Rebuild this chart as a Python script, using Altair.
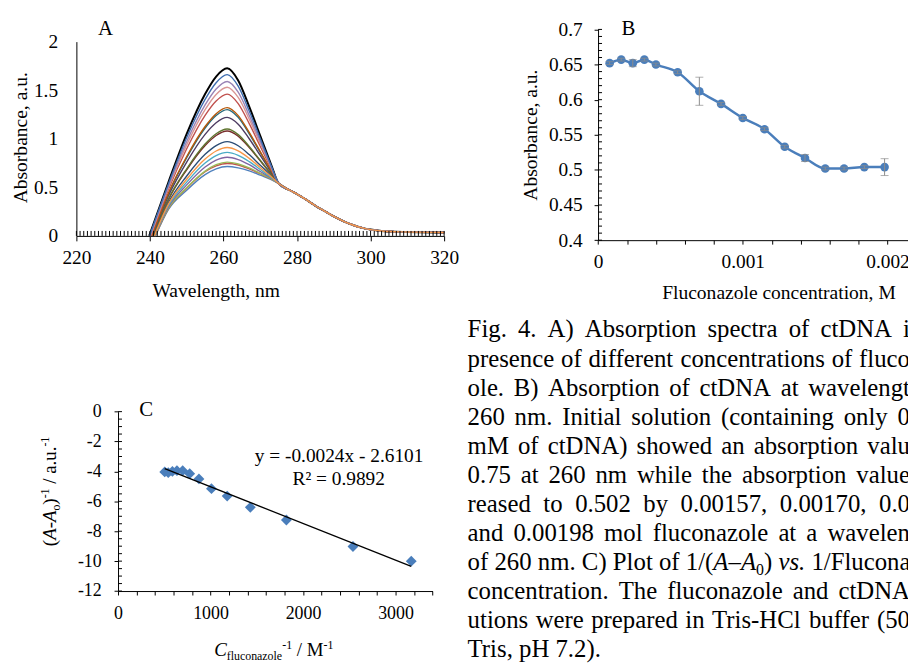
import altair as alt
import pandas as pd

SERIF = "Liberation Serif"
W, H = 908, 658


def P(v):
    """page pixel -> chart pixel (page has an 8px margin)"""
    return v - 8


# ---------------- Panel A: absorption spectra ----------------
wl_grid = [245, 250, 255, 258, 261, 264, 267, 270, 273, 275]
curve_names = ["c01", "c02", "c03", "c04", "c05", "c06", "c07", "c08", "c09",
               "c10", "c11", "c12", "c13", "c14", "c15", "c16", "c17"]
curve_colors = ["#4F81BD", "#C0504D", "#9BBB59", "#8064A2", "#4BACC6", "#F79646",
                "#2C4D75", "#772C2A", "#5F7530", "#4D3B62", "#276A7C", "#B65708",
                "#C0504D", "#D99694", "#9983B5", "#3D6DB0", "#000000"]
curve_starts = [241.5, 241.45, 241.4, 241.3, 241.25, 241.2, 241.1, 240.9, 240.85,
                240.65, 240.5, 240.5, 240.25, 240.1, 240.0, 239.9, 239.8]
curve_values = [
    [0.27, 0.47, 0.63, 0.69, 0.714, 0.70, 0.67, 0.625, 0.58, 0.54],
    [0.28, 0.49, 0.66, 0.72, 0.745, 0.73, 0.69, 0.64, 0.585, 0.54],
    [0.283, 0.496, 0.667, 0.733, 0.76, 0.74, 0.70, 0.643, 0.587, 0.54],
    [0.297, 0.525, 0.709, 0.78, 0.81, 0.786, 0.733, 0.663, 0.594, 0.54],
    [0.31, 0.554, 0.75, 0.827, 0.86, 0.83, 0.765, 0.683, 0.60, 0.54],
    [0.324, 0.583, 0.791, 0.874, 0.91, 0.875, 0.798, 0.704, 0.609, 0.54],
    [0.341, 0.617, 0.84, 0.93, 0.97, 0.928, 0.837, 0.727, 0.618, 0.54],
    [0.371, 0.68, 0.93, 1.034, 1.08, 1.026, 0.909, 0.772, 0.634, 0.54],
    [0.377, 0.691, 0.946, 1.052, 1.10, 1.043, 0.921, 0.779, 0.637, 0.54],
    [0.41, 0.76, 1.045, 1.165, 1.22, 1.15, 1.00, 0.828, 0.655, 0.54],
    [0.432, 0.805, 1.11, 1.239, 1.30, 1.22, 1.051, 0.859, 0.667, 0.54],
    [0.437, 0.817, 1.126, 1.258, 1.32, 1.238, 1.065, 0.867, 0.67, 0.54],
    [0.476, 0.897, 1.241, 1.389, 1.46, 1.362, 1.156, 0.923, 0.69, 0.54],
    [0.496, 0.937, 1.299, 1.456, 1.53, 1.425, 1.202, 0.951, 0.701, 0.54],
    [0.512, 0.972, 1.348, 1.512, 1.59, 1.479, 1.241, 0.975, 0.71, 0.54],
    [0.532, 1.012, 1.405, 1.577, 1.66, 1.541, 1.286, 1.003, 0.72, 0.54],
    [0.55, 1.05, 1.46, 1.64, 1.725, 1.60, 1.33, 1.03, 0.73, 0.54],
]
tail_wl = [278, 280, 283, 285, 288, 290, 293, 295, 298, 300, 303, 305, 310, 320]
tail_abs = [0.47, 0.43, 0.36, 0.31, 0.245, 0.20, 0.145, 0.115, 0.08, 0.065, 0.05,
            0.045, 0.04, 0.035]
a_xticks = [220, 240, 260, 280, 300, 320]
a_yticks = [0, 0.5, 1, 1.5, 2]
a_minor = list(range(220, 321))
# drawing order: black first, orange (c06) last so it lies on top in the tail
draw_order = [16, 0, 1, 2, 3, 4, 6, 7, 8, 9, 10, 11, 12, 13, 14, 15, 5]

# ---------------- Panel B: absorbance vs concentration ----------------
b_conc = [0.00008, 0.00016, 0.00024, 0.00032, 0.0004, 0.00055, 0.0007, 0.00085,
          0.001, 0.00115, 0.00129, 0.00143, 0.00157, 0.0017, 0.00184, 0.00198]
b_abs = [0.652, 0.657, 0.652, 0.657, 0.650, 0.639, 0.612, 0.594, 0.574, 0.558,
         0.533, 0.517, 0.502, 0.502, 0.504, 0.504]
b_err = [0.002, 0.002, 0.005, 0.002, 0.002, 0.002, 0.020, 0.002, 0.002, 0.002,
         0.002, 0.005, 0.002, 0.002, 0.002, 0.012]
b_xticks = [round(i * 0.0002, 4) for i in range(12)]
b_yticks = [0.4, 0.45, 0.5, 0.55, 0.6, 0.65, 0.7]
b_minor = [round(0.4 + i * 0.01, 2) for i in range(31)]

# ---------------- Panel C: double reciprocal plot ----------------
c_inv = [505, 543, 588, 637, 699, 775, 875, 1010, 1180, 1430, 1820, 2540, 3170]
c_val = [-4.03, -4.08, -4.0, -3.95, -3.95, -4.15, -4.5, -5.15, -5.65, -6.4,
         -7.25, -9.02, -10.0]
c_xticks = list(range(0, 3401, 200))
c_yticks = [0, -2, -4, -6, -8, -10, -12]
c_minor = [-(i * 0.5) for i in range(25)]

eq_text = "y = -0.0024x - 2.6101"
r2_text = "R² = 0.9892"

# caption (visible part of each line; the page edge cuts the justified lines)
caption_lines = [
    "Fig. 4. A) Absorption spectra of ctDNA i",
    "presence of different concentrations of fluco",
    "ole. B) Absorption of ctDNA at wavelengt",
    "260 nm. Initial solution (containing only 0",
    "mM of ctDNA) showed an absorption valu",
    "0.75 at 260 nm while the absorption value",
    "reased to 0.502 by 0.00157, 0.00170, 0.0",
    "and 0.00198 mol fluconazole at a wavelen",
    "of 260 nm. C) Plot of 1/(A–A0) vs. 1/Flucona",
    "concentration. The fluconazole and ctDNA",
    "utions were prepared in Tris-HCl buffer (50",
    "Tris, pH 7.2).",
]
# line 9 has italic and subscript parts: words made of (text, size, style, dy)
caption_line9_words = [
    [("of", 25, "normal", 0)], [("260", 25, "normal", 0)], [("nm.", 25, "normal", 0)],
    [("C)", 25, "normal", 0)], [("Plot", 25, "normal", 0)], [("of", 25, "normal", 0)],
    [("1/(", 25, "normal", 0), ("A", 25, "italic", 0), ("–", 25, "normal", 0),
     ("A", 25, "italic", 0), ("0", 16, "normal", 5), (")", 25, "normal", 0)],
    [("vs.", 25, "italic", 0)], [("1/Flucona", 25, "normal", 0)],
]

# ---------------- helpers ----------------
TIMES = {' ': 250, '(': 333, ')': 333, '-': 333, '–': 500, '.': 250, ',': 250, '/': 278,
         '=': 564, '²': 300,
         'A': 722, 'B': 667, 'C': 667, 'D': 722, 'F': 556, 'H': 722, 'I': 333,
         'M': 889, 'N': 722, 'P': 556, 'R': 667, 'T': 611,
         'a': 444, 'b': 500, 'c': 444, 'd': 500, 'e': 444, 'f': 333, 'g': 500,
         'h': 500, 'i': 278, 'l': 278, 'm': 778, 'n': 500, 'o': 500, 'p': 500,
         'r': 333, 's': 389, 't': 278, 'u': 500, 'v': 500, 'w': 722, 'x': 500,
         'y': 500, 'z': 444}
TIMES_IT = {'A': 611, 'C': 667, 'v': 444, 's': 389, '.': 250}


def text_width(s, size, style):
    table = TIMES_IT if style == "italic" else TIMES
    return sum(table.get(ch, TIMES.get(ch, 500)) for ch in s) * size / 1000.0


one = pd.DataFrame({"k": [0]})


def txt(s, x, y, size, angle=0, align="center", style="normal"):
    return alt.Chart(one).mark_text(
        text=s, font=SERIF, fontSize=size, fontStyle=style, align=align,
        baseline="alphabetic", angle=angle, color="black"
    ).encode(x=alt.value(P(x)), y=alt.value(P(y)))


def split_lead(s, size, style):
    """SVG drops leading spaces: advance by their width instead"""
    stripped = s.lstrip(" ")
    return stripped, text_width(s[: len(s) - len(stripped)], size, style)


def rich_h(pieces, x0, y0):
    out, x = [], x0
    for s, size, style, dy in pieces:
        s2, lead = split_lead(s, size, style)
        out.append(txt(s2, x + lead, y0 + dy, size, 0, "left", style))
        x += text_width(s, size, style)
    return out


def rich_v(pieces, x0, y0):
    out, y = [], y0
    for s, size, style, dx in pieces:
        s2, lead = split_lead(s, size, style)
        out.append(txt(s2, x0 + dx, y - lead, size, 270, "left", style))
        y -= text_width(s, size, style)
    return out


def justified(words, x0, y0, right):
    """place words (lists of segments) so the line runs from x0 to right"""
    widths = [sum(text_width(s, sz, st) for s, sz, st, _ in w) for w in words]
    gap = 25 * 0.25
    if len(words) > 1:
        gap = max(gap, (right - x0 - sum(widths)) / (len(words) - 1))
    out, x = [], x0
    for w, wd in zip(words, widths):
        out += rich_h(w, x, y0)
        x += wd + gap
    return out


def axis(**kw):
    base = dict(grid=False, domainColor="black", domainWidth=1, tickColor="black",
                tickWidth=1, labelFont=SERIF, labelColor="black", labelOverlap=False,
                labelFlush=False, title=None)
    base.update(kw)
    return alt.Axis(**base)


# ================= Panel A =================
rowsA = []
for i in draw_order:
    rowsA.append({"curve": curve_names[i], "wl": curve_starts[i], "ab": 0.0})
    for w, a in zip(wl_grid, curve_values[i]):
        rowsA.append({"curve": curve_names[i], "wl": w, "ab": a})
    for w, a in zip(tail_wl, tail_abs):
        rowsA.append({"curve": curve_names[i], "wl": w, "ab": a})
dfA = pd.DataFrame(rowsA)

scA_x = alt.Scale(domain=[220, 320], range=[P(77), P(448)], nice=False, zero=False)
scA_y = alt.Scale(domain=[0, 2], range=[P(235), P(39)], nice=False, zero=False)
axA_x = axis(orient="bottom", offset=P(235) - H, values=a_xticks, tickSize=5,
             labelPadding=8, labelFontSize=19.5, format="d")
axA_y = axis(orient="left", offset=-P(77), values=a_yticks, ticks=False,
             labelPadding=19, labelFontSize=19.5, format="~g")
xA = alt.X("wl:Q", scale=scA_x, axis=axA_x)
yA = alt.Y("ab:Q", scale=scA_y, axis=axA_y)

black_line = alt.Chart(dfA).transform_filter(alt.datum.curve == "c17").mark_line(
    color="black", strokeWidth=2, interpolate="monotone").encode(x=xA, y=yA)
color_lines = alt.Chart(dfA).transform_filter(alt.datum.curve != "c17").mark_line(
    strokeWidth=1.4, interpolate="monotone").encode(
    x=xA, y=yA,
    color=alt.Color("curve:N", scale=alt.Scale(domain=curve_names, range=curve_colors),
                    legend=None))
minorA = alt.Chart(pd.DataFrame({"wl": a_minor})).mark_rule(
    color="black", strokeWidth=1).encode(
    x=xA, y=alt.value(P(235) - 5), y2=alt.value(P(235)))
panelA = alt.layer(black_line, color_lines, minorA)

# ================= Panel B =================
dfB = pd.DataFrame({"conc": b_conc, "absb": b_abs, "err": b_err})
scB_x = alt.Scale(domain=[0, 0.0022], range=[P(603.3), P(603.3) + 321.2], nice=False,
                  zero=False)
scB_y = alt.Scale(domain=[0.4, 0.7], range=[P(239.3), P(26.7)], nice=False, zero=False)
axB_x = axis(orient="bottom", offset=P(239.3) - H, values=b_xticks, tickSize=4,
             labelPadding=9, labelFontSize=19.5,
             labelExpr="datum.value < 0.00001 ? '0' : (abs(datum.value * 1000 - round(datum.value * 1000)) < 0.000001 ? format(datum.value, '.3f') : '')")
axB_y = axis(orient="left", offset=-P(603.3), values=b_yticks, tickSize=4,
             labelPadding=12, labelFontSize=19.5, format="~g")
xB = alt.X("conc:Q", scale=scB_x, axis=axB_x)


def yB(field):
    return alt.Y(field, scale=scB_y, axis=axB_y)


baseB = alt.Chart(dfB)
lineB = baseB.mark_line(color="#4A7EBB", strokeWidth=2.5, interpolate="monotone").encode(
    x=xB, y=yB("absb:Q"))
ptsB = baseB.mark_circle(color="#4A7EBB", size=75, opacity=1).encode(x=xB, y=yB("absb:Q"))
errB = baseB.transform_calculate(lo="datum.absb - datum.err", hi="datum.absb + datum.err")
errRule = errB.mark_rule(color="#8C8C8C", strokeWidth=1).encode(
    x=xB, y=yB("lo:Q"), y2="hi:Q")
capLo = errB.mark_tick(color="#8C8C8C", orient="horizontal", size=8, thickness=1).encode(
    x=xB, y=yB("lo:Q"))
capHi = errB.mark_tick(color="#8C8C8C", orient="horizontal", size=8, thickness=1).encode(
    x=xB, y=yB("hi:Q"))
minorB = alt.Chart(pd.DataFrame({"v": b_minor})).mark_rule(color="black", strokeWidth=1).encode(
    y=yB("v:Q"), x=alt.value(P(603.3)), x2=alt.value(P(603.3) + 4))
panelB = alt.layer(minorB, lineB, ptsB, errRule, capLo, capHi)

# ================= Panel C =================
dfC = pd.DataFrame({"inv": c_inv, "yv": c_val})
scC_x = alt.Scale(domain=[0, 3400], range=[P(119), P(119) + 317.3], nice=False, zero=False)
scC_y = alt.Scale(domain=[-12, 0], range=[P(593.3), P(412.3)], nice=False, zero=False)
axC_x = axis(orient="bottom", offset=P(593.3) - H, values=c_xticks, tickSize=4,
             labelPadding=10, labelFontSize=18,
             labelExpr="datum.value % 1000 == 0 ? '' + datum.value : ''")
axC_y = axis(orient="left", offset=-P(119), values=c_yticks, tickSize=4,
             labelPadding=13, labelFontSize=18, labelExpr="'' + datum.value")
xC = alt.X("inv:Q", scale=scC_x, axis=axC_x)
yC = alt.Y("yv:Q", scale=scC_y, axis=axC_y)
ptsC = alt.Chart(dfC).mark_point(shape="diamond", filled=True, size=120,
                                 color="#4A7EBB", opacity=1).encode(x=xC, y=yC)
fitC = alt.Chart(dfC).transform_regression("inv", "yv").mark_line(
    color="black", strokeWidth=1.3).encode(x=xC, y=yC)
minorC = alt.Chart(pd.DataFrame({"yv": c_minor})).mark_rule(color="black", strokeWidth=1).encode(
    y=yC, x=alt.value(P(119)), x2=alt.value(P(119) + 4))
panelC = alt.layer(minorC, ptsC, fitC)

# ================= Texts =================
texts = [
    txt("A", 106.5, 32, 21),
    txt("B", 634, 32, 21),
    txt("C", 147.5, 417, 21),
    txt("Absorbance, a.u.", 27.5, 136, 19.7, angle=270),
    txt("Wavelength, nm", 218, 296.5, 19.7),
    txt("Absorbance, a.u.", 542, 133.3, 19.7, angle=270),
    txt("Fluconazole concentration, M", 785.8, 298.3, 19.7),
    txt(eq_text, 342, 462.7, 19.5),
    txt(r2_text, 341.7, 486, 19.5),
]
texts += rich_v([("(", 19, "normal", 0), ("A", 19, "italic", 0), ("-", 19, "normal", 0),
                 ("A", 19, "italic", 0), ("o", 12, "normal", 4), (")", 19, "normal", 0),
                 ("-1", 12, "normal", -7), (" / a.u.", 19, "normal", 0),
                 ("-1", 12, "normal", -7)], 56, 548)
texts += rich_h([("C", 19, "italic", 0), ("fluconazole", 12, "normal", 4),
                 ("-1", 12, "normal", -7.5), (" / M", 19, "normal", 0),
                 ("-1", 12, "normal", -7.5)], 216, 659.3)

cap_x, cap_y0, cap_dy, cap_right = 471.7, 337.5, 29.3, 918
for i, line in enumerate(caption_lines):
    y = cap_y0 + i * cap_dy
    if i == 8:
        texts += justified(caption_line9_words, cap_x, y, cap_right)
    elif i == len(caption_lines) - 1:
        texts.append(txt(line, cap_x, y, 25, align="left"))
    else:
        words = [[(w, 25, "normal", 0)] for w in line.split(" ")]
        texts += justified(words, cap_x, y, cap_right)

chart = alt.layer(panelA, panelB, panelC, *texts).resolve_scale(
    x="independent", y="independent"
).properties(
    width=W, height=H, padding=0, autosize=alt.AutoSizeParams(type="none")
).configure_view(strokeWidth=0)

chart.save("out.html", embed_options={"renderer": "svg", "actions": False})
